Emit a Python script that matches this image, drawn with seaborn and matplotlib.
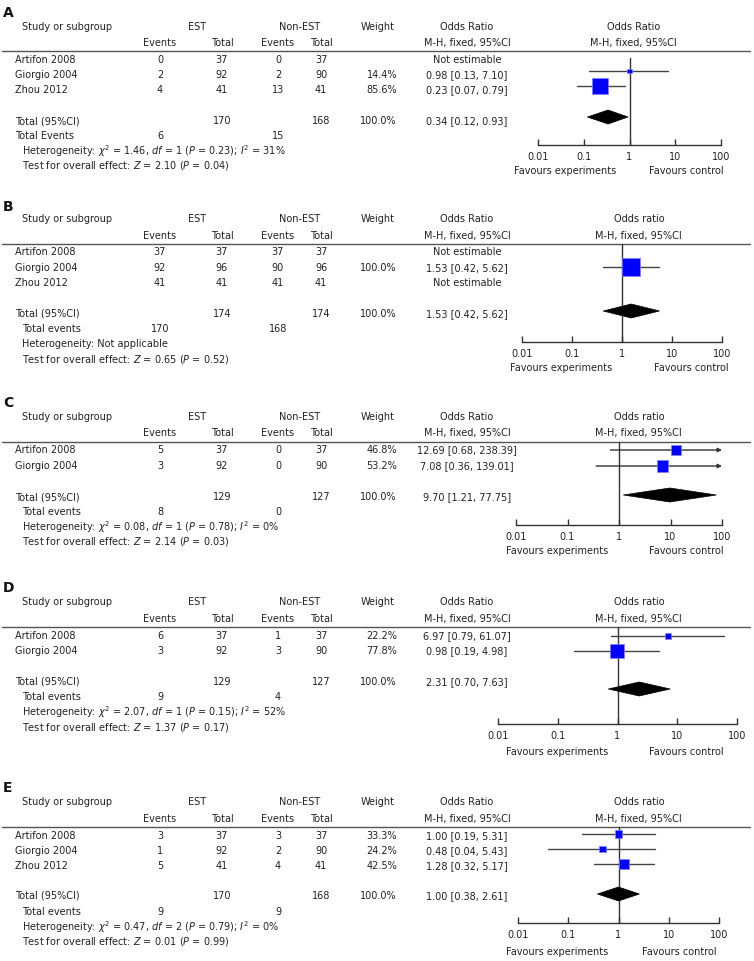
import numpy as np
import pandas as pd
import seaborn as sns
import matplotlib
matplotlib.use("Agg")
import matplotlib.pyplot as plt
from matplotlib.patches import Polygon

# ---------------- data ----------------
# Panel A
studies_A = ["Artifon 2008", "Giorgio 2004", "Zhou 2012"]
est_events_A = [0, 2, 4]
est_total_A = [37, 92, 41]
non_events_A = [0, 2, 13]
non_total_A = [37, 90, 41]
weight_A = [None, 14.4, 85.6]
or_A = [None, 0.98, 0.23]
lo_A = [None, 0.13, 0.07]
hi_A = [None, 7.10, 0.79]
pooled_A = [0.34, 0.12, 0.93]
totals_A = [170, 168]
tot_events_A = [6, 15]
het_A = [1.46, 1, 0.23, 31]
test_A = [2.10, 0.04]

# Panel B
studies_B = ["Artifon 2008", "Giorgio 2004", "Zhou 2012"]
est_events_B = [37, 92, 41]
est_total_B = [37, 96, 41]
non_events_B = [37, 90, 41]
non_total_B = [37, 96, 41]
weight_B = [None, 100.0, None]
or_B = [None, 1.53, None]
lo_B = [None, 0.42, None]
hi_B = [None, 5.62, None]
pooled_B = [1.53, 0.42, 5.62]
totals_B = [174, 174]
tot_events_B = [170, 168]
het_B = None
test_B = [0.65, 0.52]

# Panel C
studies_C = ["Artifon 2008", "Giorgio 2004"]
est_events_C = [5, 3]
est_total_C = [37, 92]
non_events_C = [0, 0]
non_total_C = [37, 90]
weight_C = [46.8, 53.2]
or_C = [12.69, 7.08]
lo_C = [0.68, 0.36]
hi_C = [238.39, 139.01]
pooled_C = [9.70, 1.21, 77.75]
totals_C = [129, 127]
tot_events_C = [8, 0]
het_C = [0.08, 1, 0.78, 0]
test_C = [2.14, 0.03]

# Panel D
studies_D = ["Artifon 2008", "Giorgio 2004"]
est_events_D = [6, 3]
est_total_D = [37, 92]
non_events_D = [1, 3]
non_total_D = [37, 90]
weight_D = [22.2, 77.8]
or_D = [6.97, 0.98]
lo_D = [0.79, 0.19]
hi_D = [61.07, 4.98]
pooled_D = [2.31, 0.70, 7.63]
totals_D = [129, 127]
tot_events_D = [9, 4]
het_D = [2.07, 1, 0.15, 52]
test_D = [1.37, 0.17]

# Panel E
studies_E = ["Artifon 2008", "Giorgio 2004", "Zhou 2012"]
est_events_E = [3, 1, 5]
est_total_E = [37, 92, 41]
non_events_E = [3, 2, 4]
non_total_E = [37, 90, 41]
weight_E = [33.3, 24.2, 42.5]
or_E = [1.00, 0.48, 1.28]
lo_E = [0.19, 0.04, 0.32]
hi_E = [5.31, 5.43, 5.17]
pooled_E = [1.00, 0.38, 2.61]
totals_E = [170, 168]
tot_events_E = [9, 9]
het_E = [0.47, 2, 0.79, 0]
test_E = [0.01, 0.99]

panel_labels = ["A", "B", "C", "D", "E"]
forest_titles = ["Odds Ratio", "Odds ratio", "Odds ratio", "Odds ratio", "Odds ratio"]
tick_values = [0.01, 0.1, 1, 10, 100]
tick_labels = ["0.01", "0.1", "1", "10", "100"]
total_events_labels = ["Total Events", "Total events", "Total events", "Total events", "Total events"]

# ---------------- layout (pixels) ----------------
LAYOUT = [
    dict(label=13, h1=27, h2=43, line=51, rows=[60, 75, 90], total=121, events=136, het=151, test=166,
         diamond=117, mdy=-4, axis=145, fav=171, xl=538, xr=721, vtop=58, ftitle_x=634,
         fav_x=(565, 686), ev_x=15),
    dict(label=207, h1=219, h2=236, line=244, rows=[252, 268, 283], total=314, events=329, het=344, test=360,
         diamond=311, mdy=-1, axis=342, fav=368, xl=522, xr=722, vtop=244, ftitle_x=639,
         fav_x=(561, 691), ev_x=22),
    dict(label=403, h1=417, h2=433, line=442, rows=[450, 466], total=497, events=512, het=527, test=542,
         diamond=495, mdy=0, axis=525, fav=551, xl=516, xr=722, vtop=442, ftitle_x=639,
         fav_x=(557, 686), ev_x=22),
    dict(label=588, h1=602, h2=619, line=627, rows=[636, 651], total=682, events=697, het=712, test=727,
         diamond=689, mdy=0, axis=724, fav=752, xl=498, xr=737, vtop=627, ftitle_x=639,
         fav_x=(557, 686), ev_x=22),
    dict(label=788, h1=802, h2=819, line=827, rows=[836, 851, 866], total=896, events=912, het=927, test=942,
         diamond=894, mdy=-2, axis=923, fav=952, xl=518, xr=719, vtop=827, ftitle_x=639,
         fav_x=(557, 679), ev_x=22),
]

panels = [
    (studies_A, est_events_A, est_total_A, non_events_A, non_total_A, weight_A, or_A, lo_A, hi_A,
     pooled_A, totals_A, tot_events_A, het_A, test_A),
    (studies_B, est_events_B, est_total_B, non_events_B, non_total_B, weight_B, or_B, lo_B, hi_B,
     pooled_B, totals_B, tot_events_B, het_B, test_B),
    (studies_C, est_events_C, est_total_C, non_events_C, non_total_C, weight_C, or_C, lo_C, hi_C,
     pooled_C, totals_C, tot_events_C, het_C, test_C),
    (studies_D, est_events_D, est_total_D, non_events_D, non_total_D, weight_D, or_D, lo_D, hi_D,
     pooled_D, totals_D, tot_events_D, het_D, test_D),
    (studies_E, est_events_E, est_total_E, non_events_E, non_total_E, weight_E, or_E, lo_E, hi_E,
     pooled_E, totals_E, tot_events_E, het_E, test_E),
]

# ---------------- style ----------------
sns.set_theme(style="white")
plt.rcParams['font.family'] = ['DejaVu Sans']
plt.rcParams['mathtext.fontset'] = 'dejavusans'
FS = 7.0
TC = "#222222"
LC = "#555555"

W, H = 754, 961
fig = plt.figure(figsize=(W / 100, H / 100), dpi=100)
base = fig.add_axes([0, 0, 1, 1])
base.set_xlim(0, W)
base.set_ylim(H, 0)
base.axis("off")


def txt(x, y, s, ha="center", **kw):
    base.text(x, y, s, ha=ha, va="center", fontsize=FS, color=TC, **kw)


X_EV1, X_TOT1, X_EV2, X_TOT2 = 160, 222, 278, 321
X_W, X_OR = 397, 467

for i, (lab, L, P) in enumerate(zip(panel_labels, LAYOUT, panels)):
    (studies, ee, et, ne, nt, w, orv, lo, hi, pooled, totals, tev, het, test) = P

    # panel label
    base.text(3, L["label"], lab, ha="left", va="center", fontsize=10, fontweight="bold", color="#111111")

    # headers
    txt(22, L["h1"], "Study or subgroup", ha="left")
    txt(197, L["h1"], "EST")
    txt(300, L["h1"], "Non-EST")
    txt(378, L["h1"], "Weight")
    txt(X_OR, L["h1"], "Odds Ratio")
    txt(L["ftitle_x"], L["h1"], forest_titles[i])
    txt(X_EV1, L["h2"], "Events")
    txt(X_TOT1, L["h2"], "Total")
    txt(X_EV2, L["h2"], "Events")
    txt(X_TOT2, L["h2"], "Total")
    txt(X_OR, L["h2"], "M-H, fixed, 95%CI")
    txt(L["ftitle_x"] - 1, L["h2"], "M-H, fixed, 95%CI")
    base.plot([2, 750], [L["line"], L["line"]], color=LC, lw=1.0)

    # study rows
    for j, y in enumerate(L["rows"]):
        txt(15, y, studies[j], ha="left")
        txt(X_EV1, y, str(ee[j]))
        txt(X_TOT1, y, str(et[j]))
        txt(X_EV2, y, str(ne[j]))
        txt(X_TOT2, y, str(nt[j]))
        if w[j] is not None:
            txt(X_W, y, f"{w[j]:.1f}%", ha="right")
        if orv[j] is None:
            txt(X_OR, y, "Not estimable")
        else:
            txt(X_OR, y, f"{orv[j]:.2f} [{lo[j]:.2f}, {hi[j]:.2f}]")

    # totals
    txt(15, L["total"], "Total (95%CI)", ha="left")
    txt(X_TOT1, L["total"], str(totals[0]))
    txt(X_TOT2, L["total"], str(totals[1]))
    txt(X_W, L["total"], "100.0%", ha="right")
    txt(X_OR, L["total"], f"{pooled[0]:.2f} [{pooled[1]:.2f}, {pooled[2]:.2f}]")
    txt(L["ev_x"], L["events"], total_events_labels[i], ha="left")
    txt(X_EV1, L["events"], str(tev[0]))
    txt(X_EV2, L["events"], str(tev[1]))
    if het is None:
        txt(22, L["het"], "Heterogeneity: Not applicable", ha="left")
    else:
        txt(22, L["het"],
            rf"Heterogeneity: $\chi^2$ = {het[0]:.2f}, $df$ = {het[1]} ($P$ = {het[2]:.2f}); $I^2$ = {het[3]}%",
            ha="left")
    txt(22, L["test"], rf"Test for overall effect: $Z$ = {test[0]:.2f} ($P$ = {test[1]:.2f})", ha="left")

    # forest axes (y in pixel units)
    ax = fig.add_axes([L["xl"] / W, 1 - L["axis"] / H, (L["xr"] - L["xl"]) / W, (L["axis"] - L["line"]) / H])
    ax.patch.set_visible(False)
    ax.set_xscale("log")
    ax.set_xlim(0.01, 100)
    ax.set_ylim(L["axis"], L["line"])
    for s in ["top", "left", "right"]:
        ax.spines[s].set_visible(False)
    ax.spines["bottom"].set_color("#333333")
    ax.spines["bottom"].set_linewidth(1.0)
    ax.set_yticks([])
    ax.set_xticks(tick_values)
    ax.set_xticklabels(tick_labels)
    ax.minorticks_off()
    ax.tick_params(axis="x", direction="in", length=4, width=1, color="#333333",
                   labelsize=FS, labelcolor=TC, pad=5, bottom=True)
    ax.grid(False)

    # line of no effect
    ax.plot([1, 1], [L["vtop"], L["axis"]], color="#333333", lw=1.0, clip_on=False, zorder=2)

    # CIs and squares
    xs, ys, ss = [], [], []
    for j, y in enumerate(L["rows"]):
        if orv[j] is None:
            continue
        ym = y + L["mdy"]
        if hi[j] > 100:
            ax.annotate("", xy=(100, ym), xytext=(lo[j], ym),
                        arrowprops=dict(arrowstyle="-|>", color="#333333", lw=1.0,
                                        mutation_scale=6, shrinkA=0, shrinkB=0),
                        annotation_clip=False)
        else:
            ax.plot([lo[j], hi[j]], [ym, ym], color="#444444", lw=1.0, clip_on=False, zorder=2)
        side_px = 0.16 * w[j] + 2.5
        xs.append(orv[j])
        ys.append(ym)
        ss.append((side_px * 0.72) ** 2)
    if xs:
        df = pd.DataFrame({"or": xs, "y": ys})
        sns.scatterplot(data=df, x="or", y="y", marker="s", s=ss, color="#0000ff",
                        edgecolor="#8080ff", linewidth=0.5, ax=ax, legend=False,
                        zorder=3, clip_on=False)
    ax.set_xlabel("")
    ax.set_ylabel("")
    ax.set_xlim(0.01, 100)
    ax.set_ylim(L["axis"], L["line"])

    # pooled diamond
    yd = L["diamond"]
    dh = 7
    poly = Polygon([(pooled[1], yd), (pooled[0], yd - dh), (pooled[2], yd), (pooled[0], yd + dh)],
                   closed=True, facecolor="black", edgecolor="black", lw=0.5, zorder=3, clip_on=False)
    ax.add_patch(poly)

    # favours labels
    txt(L["fav_x"][0], L["fav"], "Favours experiments")
    txt(L["fav_x"][1], L["fav"], "Favours control")

fig.savefig("out.png", dpi=100)
